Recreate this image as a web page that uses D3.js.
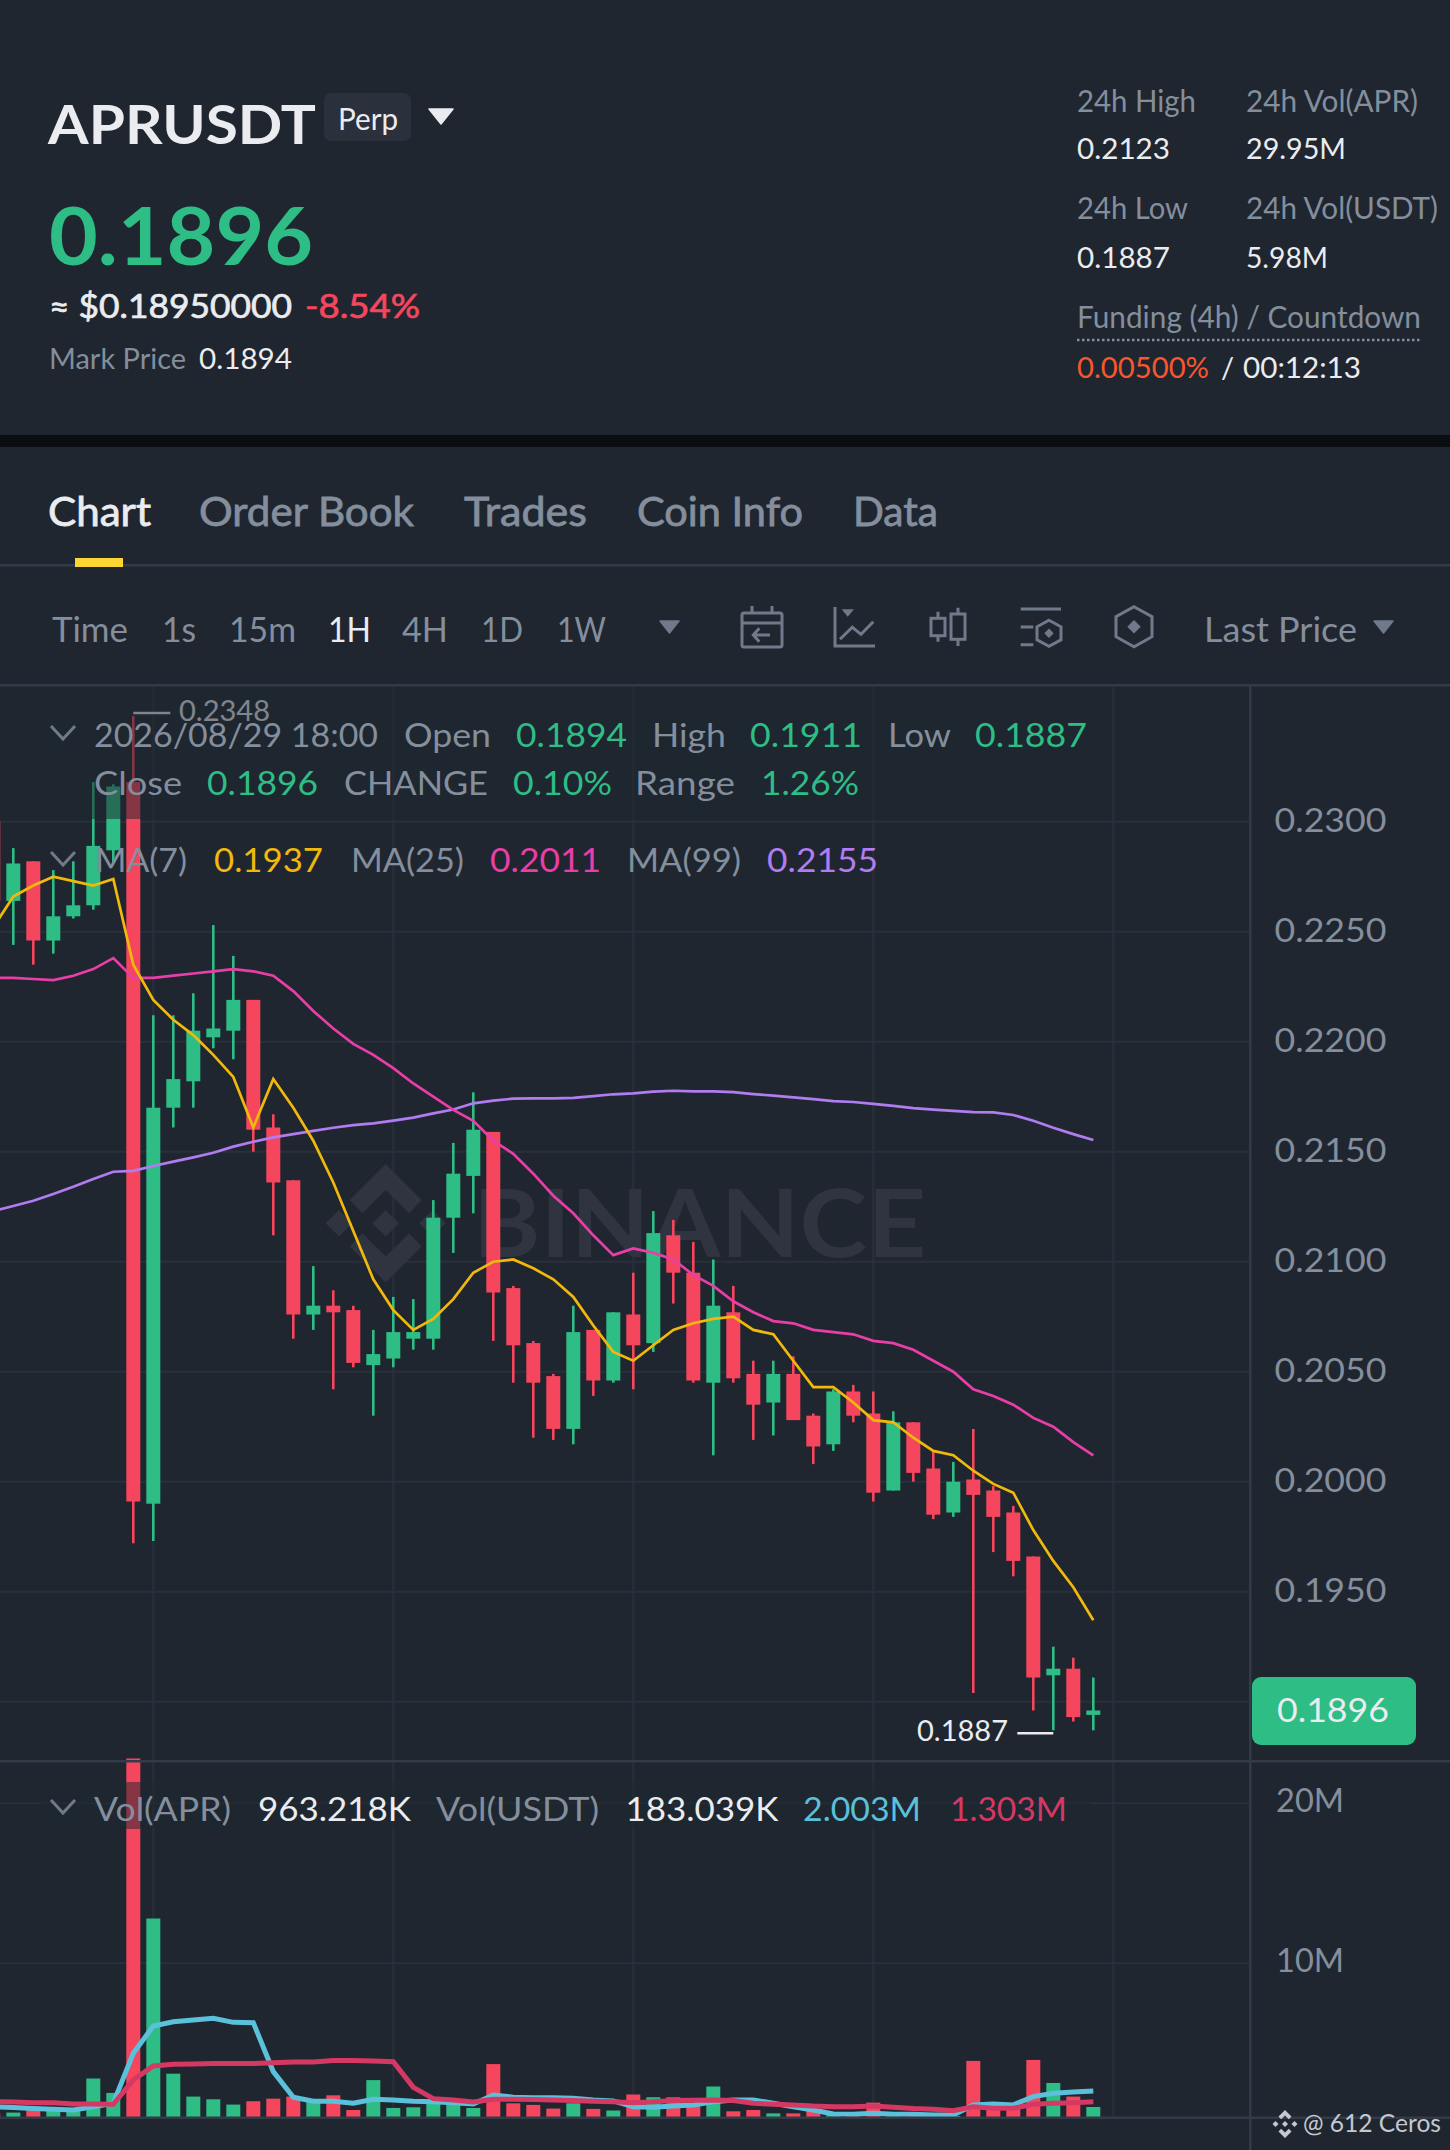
<!DOCTYPE html>
<html>
<head>
<meta charset="utf-8">
<script src="https://cdn.jsdelivr.net/npm/d3@7"></script>
<style>
  html, body { margin: 0; padding: 0; background: #1f2630; }
  svg { display: block; }
  text { font-family: Lato, "Open Sans", sans-serif; }
</style>
</head>
<body>
<script>
// candles, oldest first. the first one is cut off by the left edge
var opens = [0.2300,0.2264,0.2282,0.2246,0.2257,0.2262,0.2287,0.2318,0.1990,0.2170,0.2182,0.2202,0.2205,0.2219,0.2161,0.2137,0.2076,0.2080,0.2078,0.2053,0.2056,0.2065,0.2065,0.2120,0.2139,0.2159,0.2088,0.2063,0.2048,0.2024,0.2069,0.2046,0.2076,0.2063,0.2112,0.2095,0.2045,0.2077,0.2049,0.2036,0.2049,0.2030,0.2017,0.2041,0.2031,0.1996,0.2027,0.2006,0.1986,0.2001,0.1996,0.1986,0.1966,0.1912,0.1915,0.1894];
var highs = [0.2300,0.2288,0.2282,0.2278,0.2282,0.2318,0.2317,0.2348,0.2212,0.2212,0.2222,0.2253,0.2239,0.2219,0.2167,0.2137,0.2098,0.2087,0.2080,0.2069,0.2084,0.2083,0.2128,0.2154,0.2177,0.2159,0.2089,0.2064,0.2049,0.2080,0.2069,0.2077,0.2095,0.2123,0.2119,0.2109,0.2101,0.2089,0.2055,0.2055,0.2057,0.2031,0.2042,0.2044,0.2041,0.2032,0.2027,0.2014,0.2009,0.2024,0.1998,0.1989,0.1966,0.1925,0.1920,0.1911];
var lows = [0.2250,0.2244,0.2235,0.2240,0.2256,0.2260,0.2281,0.1972,0.1973,0.2161,0.2170,0.2197,0.2192,0.2150,0.2112,0.2065,0.2069,0.2042,0.2052,0.2030,0.2052,0.2060,0.2060,0.2104,0.2122,0.2064,0.2045,0.2020,0.2019,0.2017,0.2039,0.2045,0.2042,0.2059,0.2081,0.2045,0.2012,0.2045,0.2019,0.2021,0.2028,0.2008,0.2014,0.2027,0.1991,0.1996,0.2000,0.1983,0.1984,0.1904,0.1968,0.1957,0.1896,0.1887,0.1891,0.1887];
var closes = [0.2264,0.2281,0.2246,0.2257,0.2262,0.2289,0.2316,0.1991,0.2170,0.2183,0.2205,0.2206,0.2219,0.2160,0.2136,0.2076,0.2080,0.2077,0.2054,0.2058,0.2068,0.2068,0.2120,0.2140,0.2160,0.2086,0.2062,0.2045,0.2024,0.2068,0.2046,0.2077,0.2062,0.2113,0.2095,0.2046,0.2080,0.2047,0.2035,0.2049,0.2028,0.2016,0.2041,0.2030,0.1995,0.2027,0.2004,0.1985,0.2000,0.1994,0.1984,0.1964,0.1911,0.1915,0.1893,0.1896];

var ma7 = [0.2252,0.2266,0.2271,0.2275,0.2273,0.2271,0.2274,0.2235,0.2219,0.2210,0.2203,0.2194,0.2184,0.2161,0.2183,0.2170,0.2155,0.2136,0.2114,0.2092,0.2078,0.2069,0.2074,0.2083,0.2095,0.2100,0.2101,0.2097,0.2092,0.2084,0.2071,0.2059,0.2055,0.2062,0.2069,0.2072,0.2074,0.2075,0.2069,0.2067,0.2055,0.2043,0.2043,0.2036,0.2028,0.2027,0.2020,0.2014,0.2012,0.2005,0.1999,0.1995,0.1978,0.1964,0.1952,0.1937];
var ma25 = [0.2229,0.2229,0.22285,0.2228,0.2230,0.2233,0.2238,0.2229,0.2229,0.2230,0.2231,0.2232,0.2233,0.2232,0.2230,0.2223,0.2214,0.2206,0.2199,0.2194,0.2188,0.2181,0.2175,0.2169,0.2164,0.2155,0.2149,0.2140,0.2130,0.2122,0.2112,0.2103,0.2106,0.2104,0.2101,0.2094,0.2089,0.2082,0.2077,0.2073,0.2072,0.2069,0.2068,0.2067,0.2064,0.2063,0.2060,0.2055,0.2050,0.2042,0.2039,0.2035,0.2029,0.2025,0.2018,0.2012];
var ma99 = [0.2123,0.21253,0.21277,0.21308,0.21341,0.21376,0.21409,0.21413,0.21435,0.21455,0.21474,0.21495,0.21523,0.21545,0.21565,0.2158,0.21595,0.21609,0.21621,0.21629,0.21641,0.21655,0.21674,0.21692,0.2172,0.21732,0.21741,0.21742,0.21742,0.21745,0.21753,0.21761,0.21765,0.21773,0.21777,0.21774,0.21774,0.21771,0.21762,0.21755,0.21747,0.21739,0.2173,0.21726,0.21717,0.21708,0.21698,0.21691,0.21686,0.2168,0.21679,0.21667,0.21641,0.21609,0.2158,0.21553];

// volume in millions
var volumes = [0.6,0.67,0.9,0.9,0.9,2.8,1.9,22.8,12.8,3.1,1.67,1.5,1.17,1.38,1.54,1.67,1.35,1.75,0.83,2.7,0.96,1.0,1.3,1.4,0.96,3.7,1.25,1.15,0.92,1.25,0.9,0.8,1.8,1.63,1.63,1.25,2.3,0.75,0.83,0.62,0.62,0.83,0.62,0.52,1.29,0.52,0.46,0.46,0.46,3.9,1.0,1.04,3.96,2.52,1.67,1.02];
var volMa5 = [1.04,0.98,0.92,0.88,0.83,1.04,1.25,4.38,6.08,6.35,6.46,6.56,6.31,6.29,3.23,1.63,1.38,1.38,1.25,1.5,1.46,1.38,1.35,1.29,1.21,1.77,1.63,1.6,1.6,1.56,1.46,1.4,1.04,1.0,1.08,1.15,1.35,1.46,1.46,1.25,1.04,0.83,0.58,0.56,0.63,0.56,0.56,0.52,0.52,1.15,1.21,1.15,1.67,1.88,1.96,2.02];
var volMa10 = [1.35,1.33,1.29,1.29,1.21,1.21,1.19,2.71,3.58,3.69,3.71,3.73,3.73,3.73,3.79,3.83,3.83,3.92,3.92,3.9,3.85,2.25,1.54,1.46,1.33,1.5,1.5,1.48,1.46,1.42,1.38,1.35,1.29,1.35,1.42,1.44,1.46,1.42,1.25,1.19,1.15,1.08,1.04,1.04,1.08,1.0,0.92,0.88,0.79,1.04,0.94,0.94,1.19,1.25,1.29,1.35];

var priceTicks = [0.23,0.225,0.22,0.215,0.21,0.205,0.2,0.195];
var priceGrid = [0.23,0.225,0.22,0.215,0.21,0.205,0.2,0.195,0.19];
var volTicks = [20,10];
var timeGrid = [8,20,32,44,56]; // candle slots with a vertical grid line, every 12h
var slotCount = 56; // slot 0 is the cut off candle, slot 55 is the current candle
var highLabel = 0.2348;
var lowLabel = 0.1887;
var lastPrice = 0.1896;

var GREEN = "#2ebd85", RED = "#f6465d", GOLD = "#f0b90b", PINK = "#e93ea8", PURPLE = "#b07cf0";
var BG = "#1f2630", GRID = "#2a303b", SEP = "#343b48", GREY = "#848e9c", WHITE = "#eaecef", ICON = "#707a8a", WM = "#2f3440";

var svg = d3.select("body").append("svg")
    .attr("width", 1450)
    .attr("height", 2150);

// scales
var x = d3.scaleLinear().domain([1, 55]).range([13.3, 1093.3]);
var y = d3.scaleLinear().domain([0.23, 0.19]).range([821.7, 1701.7]);
var vy = d3.scaleLinear().domain([20, 0]).range([1803.3, 2123.3]);
var slots = d3.range(slotCount);
var bodyW = 14;

// helper: text at a baseline, width forced to what the reference measures
function txt(parent, s, px, py, size, color, w, weight) {
	var t = parent.append("text")
	    .attr("x", px)
	    .attr("y", py)
	    .attr("font-size", size)
	    .attr("fill", color)
	    .attr("font-weight", weight || 400)
	    .text(s);
	if (w) t.attr("textLength", w).attr("lengthAdjust", "spacingAndGlyphs");
	return t;
}

// no medium weight of the font is installed, so thicken the regular one
function medium(t, sw) {
	t.attr("stroke", t.attr("fill")).attr("stroke-width", sw);
}

function tri(parent, x0, x1, y0, y1, color) {
	parent.append("path")
	    .attr("d", "M" + x0 + "," + y0 + "L" + x1 + "," + y0 + "L" + (x0 + x1) / 2 + "," + y1 + "Z")
	    .attr("fill", color)
	    .attr("stroke", color)
	    .attr("stroke-width", 1.5)
	    .attr("stroke-linejoin", "round");
}

function hex(cx, cy, rx, ry) {
	return "M" + cx + "," + (cy - ry)
	  + "L" + (cx + rx) + "," + (cy - ry / 2)
	  + "L" + (cx + rx) + "," + (cy + ry / 2)
	  + "L" + cx + "," + (cy + ry)
	  + "L" + (cx - rx) + "," + (cy + ry / 2)
	  + "L" + (cx - rx) + "," + (cy - ry / 2) + "Z";
}

function diamond(cx, cy, r) {
	return "M" + cx + "," + (cy - r) + "L" + (cx + r) + "," + cy + "L" + cx + "," + (cy + r) + "L" + (cx - r) + "," + cy + "Z";
}

function chevron(parent, py) {
	parent.append("path")
	    .attr("d", "M51," + py + "L63," + (py + 13) + "L75," + py)
	    .attr("fill", "none")
	    .attr("stroke", ICON)
	    .attr("stroke-width", 3);
}

// ---- ticker header ----
var head = svg.append("g");
head.append("rect").attr("x", 0).attr("y", 435).attr("width", 1450).attr("height", 12).attr("fill", "#0b0e11");
head.append("rect").attr("x", 324).attr("y", 93).attr("width", 87).attr("height", 48).attr("rx", 7).attr("fill", "#2a303c");
tri(head, 429, 453, 109, 124, WHITE);
var ht = head.append("g").attr("transform", "translate(0,1.2)");
txt(ht, "APRUSDT", 48, 143.3, 53, WHITE, 268, 700);
txt(ht, "Perp", 338, 129, 30, WHITE, 60);
txt(ht, "0.1896", 49, 264, 80, GREEN, 264, 700);
medium(txt(ht, "\u2248 $0.18950000", 49, 317, 33, WHITE, 243), 0.7);
medium(txt(ht, "-8.54%", 305, 317, 33, RED, 115), 0.7);
txt(ht, "Mark Price", 49, 368, 29, GREY, 137);
txt(ht, "0.1894", 199, 368, 29, WHITE, 93);

txt(ht, "24h High", 1077, 110.7, 30, GREY, 119);
txt(ht, "24h Vol(APR)", 1246, 110.7, 30, GREY, 172);
txt(ht, "0.2123", 1077, 158, 29, WHITE, 93);
txt(ht, "29.95M", 1246, 158, 29, WHITE, 100);
txt(ht, "24h Low", 1077, 218, 30, GREY, 111);
txt(ht, "24h Vol(USDT)", 1246, 218, 30, GREY, 192);
txt(ht, "0.1887", 1077, 267, 29, WHITE, 93);
txt(ht, "5.98M", 1246, 267, 29, WHITE, 82);
txt(ht, "Funding (4h) / Countdown", 1077, 327, 30, GREY, 344);
head.append("line").attr("x1", 1077).attr("x2", 1422).attr("y1", 340).attr("y2", 340)
    .attr("stroke", GREY).attr("stroke-width", 2.5).attr("stroke-dasharray", "2.5 2.5");
txt(ht, "0.00500%", 1077, 377, 29, "#f6572f", 132);
txt(ht, "/", 1221, 377, 29, WHITE);
txt(ht, "00:12:13", 1243, 377, 29, WHITE, 118);

// ---- tabs ----
var tabs = svg.append("g");
medium(txt(tabs, "Chart", 48, 526, 41, WHITE, 103), 0.8);
medium(txt(tabs, "Order Book", 199, 526, 41, GREY, 215), 0.8);
medium(txt(tabs, "Trades", 464, 526, 41, GREY, 123), 0.8);
medium(txt(tabs, "Coin Info", 637, 526, 41, GREY, 166), 0.8);
medium(txt(tabs, "Data", 853, 526, 41, GREY, 85), 0.8);
tabs.append("rect").attr("x", 0).attr("y", 564).attr("width", 1450).attr("height", 2.5).attr("fill", SEP);
tabs.append("rect").attr("x", 75).attr("y", 558).attr("width", 48).attr("height", 9).attr("fill", "#fcd535");

// ---- toolbar ----
var bar = svg.append("g");
txt(bar, "Time", 52, 641.7, 34, GREY, 76);
txt(bar, "1s", 162, 641.7, 34, GREY, 34);
txt(bar, "15m", 229, 641.7, 34, GREY, 67);
txt(bar, "1H", 328, 641.7, 34, WHITE, 43);
txt(bar, "4H", 402, 641.7, 34, GREY, 46);
txt(bar, "1D", 481, 641.7, 34, GREY, 42);
txt(bar, "1W", 557, 641.7, 34, GREY, 49);
tri(bar, 660, 679, 621, 633, ICON);
txt(bar, "Last Price", 1204, 641.7, 34, GREY, 153);
tri(bar, 1374, 1393, 621, 633, ICON);

var ico = bar.append("g").attr("fill", "none").attr("stroke", ICON).attr("stroke-width", 3);
ico.append("rect").attr("x", 742).attr("y", 613).attr("width", 40).attr("height", 34).attr("rx", 2);
ico.append("path").attr("d", "M742,623H782M752,606V613M772,606V613M770,635H753M759.3,628.3L753.3,635L759.3,641.7");
ico.append("path").attr("d", "M835,607V646H875M840,639.3L852.3,627.3L861,634.3L873.3,621.7");
bar.append("path").attr("d", "M841.7,609.3H854L847.7,616.7Z").attr("fill", ICON);
ico.append("rect").attr("x", 931).attr("y", 618.3).attr("width", 14).attr("height", 17.4);
ico.append("path").attr("d", "M938,611.7V618.3M938,635.7V641.7");
ico.append("rect").attr("x", 951).attr("y", 614).attr("width", 14).attr("height", 25.3);
ico.append("path").attr("d", "M958,607.7V614M958,639.3V646");
ico.append("path").attr("d", "M1020.7,609H1061M1020.7,627H1033.3M1020.7,644.7H1033.3");
ico.append("path").attr("d", hex(1049, 633.3, 12, 13));
bar.append("path").attr("d", diamond(1049, 633.3, 4.7)).attr("fill", ICON);
ico.append("path").attr("d", hex(1134, 626.7, 18, 20));
bar.append("path").attr("d", diamond(1134, 626.7, 6.7)).attr("fill", ICON);

bar.append("rect").attr("x", 0).attr("y", 684).attr("width", 1450).attr("height", 2.5).attr("fill", SEP);

// ---- grid ----
var grid = svg.append("g").attr("stroke", GRID).attr("stroke-width", 2);
grid.selectAll(".vgrid").data(timeGrid).enter().append("line")
    .attr("class", "vgrid")
    .attr("x1", function(d) { return x(d); })
    .attr("x2", function(d) { return x(d); })
    .attr("y1", 686)
    .attr("y2", 2117);
grid.selectAll(".pgrid").data(priceGrid).enter().append("line")
    .attr("class", "pgrid")
    .attr("x1", 0).attr("x2", 1250)
    .attr("y1", function(d) { return y(d); })
    .attr("y2", function(d) { return y(d); });
grid.selectAll(".vvgrid").data(volTicks).enter().append("line")
    .attr("class", "vvgrid")
    .attr("x1", 0).attr("x2", 1250)
    .attr("y1", function(d) { return vy(d); })
    .attr("y2", function(d) { return vy(d); });

// ---- watermark ----
var wm = svg.append("g").attr("fill", WM).attr("transform", "translate(385.7,1223.3)");
wm.append("path").attr("d", "M0,-59.3L36,-23.3L23.3,-10L0,-33.3L-23.3,-10L-36,-23.3Z");
wm.append("path").attr("d", "M0,59.3L36,23.3L23.3,10L0,33.3L-23.3,10L-36,23.3Z");
wm.append("path").attr("d", diamond(0, 0, 13.3));
wm.append("path").attr("d", diamond(-46.7, 0, 13.3));
wm.append("path").attr("d", diamond(46.7, 0, 13.3));
txt(svg, "BINANCE", 473, 1257, 93, WM, 453, 700);

// ---- candles ----
function isUp(i) { return closes[i] >= opens[i]; }

var candles = svg.append("g");
candles.selectAll(".wick").data(slots).enter().append("line")
    .attr("class", "wick")
    .attr("x1", function(i) { return x(i); })
    .attr("x2", function(i) { return x(i); })
    .attr("y1", function(i) { return y(highs[i]); })
    .attr("y2", function(i) { return y(lows[i]); })
    .attr("stroke", function(i) { return isUp(i) ? GREEN : RED; })
    .attr("stroke-width", 2.6);
candles.selectAll(".body").data(slots).enter().append("rect")
    .attr("class", "body")
    .attr("x", function(i) { return x(i) - bodyW / 2; })
    .attr("width", bodyW)
    .attr("y", function(i) { return y(Math.max(opens[i], closes[i])); })
    .attr("height", function(i) { return Math.max(2, Math.abs(y(opens[i]) - y(closes[i]))); })
    .attr("fill", function(i) { return isUp(i) ? GREEN : RED; });

// moving averages
var maLine = d3.line()
    .x(function(d, i) { return x(i); })
    .y(function(d) { return y(d); });
[[ma99, PURPLE], [ma25, PINK], [ma7, GOLD]].forEach(function(m) {
	svg.append("path")
	    .attr("d", maLine(m[0]))
	    .attr("fill", "none")
	    .attr("stroke", m[1])
	    .attr("stroke-width", 2.7);
});

// high and low markers, drawn a little off the wick ends
svg.append("line").attr("x1", x(7)).attr("x2", x(7) + 37)
    .attr("y1", y(highLabel) - 3).attr("y2", y(highLabel) - 3)
    .attr("stroke", WHITE).attr("stroke-width", 2.5);
txt(svg, d3.format(".4f")(highLabel), 179, y(highLabel) + 4.6, 29, WHITE, 91);
svg.append("line").attr("x1", x(53) - 36).attr("x2", x(53))
    .attr("y1", y(lowLabel) + 3).attr("y2", y(lowLabel) + 3)
    .attr("stroke", WHITE).attr("stroke-width", 2.5);
txt(svg, d3.format(".4f")(lowLabel), 917, y(lowLabel) + 10.7, 29, WHITE, 91);

// dim strip behind the two top legend rows
svg.append("rect").attr("x", 40).attr("y", 688).attr("width", 1060).attr("height", 131)
    .attr("fill", BG).attr("fill-opacity", 0.52);

// ---- price legend ----
var leg = svg.append("g");
chevron(leg, 726);
txt(leg, "2026/08/29 18:00", 94, 746.7, 33, GREY, 284);
txt(leg, "Open", 404, 746.7, 33, GREY, 87);
txt(leg, "0.1894", 516, 746.7, 33, GREEN, 111);
txt(leg, "High", 652, 746.7, 33, GREY, 74);
txt(leg, "0.1911", 750, 746.7, 33, GREEN, 112);
txt(leg, "Low", 888, 746.7, 33, GREY, 63);
txt(leg, "0.1887", 975, 746.7, 33, GREEN, 112);
txt(leg, "Close", 94, 795, 33, GREY, 88);
txt(leg, "0.1896", 207, 795, 33, GREEN, 111);
txt(leg, "CHANGE", 344, 795, 33, GREY, 144);
txt(leg, "0.10%", 513, 795, 33, GREEN, 99);
txt(leg, "Range", 635, 795, 33, GREY, 100);
txt(leg, "1.26%", 761, 795, 33, GREEN, 98);
chevron(leg, 852);
txt(leg, "MA(7)", 95, 872, 33, GREY, 92);
txt(leg, "0.1937", 214, 872, 33, GOLD, 109);
txt(leg, "MA(25)", 351, 872, 33, GREY, 113);
txt(leg, "0.2011", 490, 872, 33, PINK, 111);
txt(leg, "MA(99)", 627, 872, 33, GREY, 114);
txt(leg, "0.2155", 767, 872, 33, PURPLE, 111);

// price axis
var priceAxis = d3.axisRight(y)
    .tickValues(priceTicks)
    .tickFormat(d3.format(".4f"))
    .tickSize(0)
    .tickPadding(24.5);
var gy = svg.append("g").attr("transform", "translate(1250,0)").call(priceAxis);
gy.select(".domain").remove();
gy.selectAll("text").attr("font-size", 33).attr("fill", GREY).attr("dy", "0.31em")
    .attr("textLength", 112).attr("lengthAdjust", "spacingAndGlyphs");

// last price tag
svg.append("rect").attr("x", 1252).attr("y", 1677).attr("width", 164).attr("height", 68).attr("rx", 9).attr("fill", GREEN);
txt(svg, d3.format(".4f")(lastPrice), 1277, 1722, 33, WHITE, 112);

// ---- volume pane ----
svg.append("clipPath").attr("id", "volclip").append("rect")
    .attr("x", 0).attr("y", 1750).attr("width", 1250).attr("height", 367);
var vol = svg.append("g").attr("clip-path", "url(#volclip)");
vol.selectAll(".vbar").data(slots).enter().append("rect")
    .attr("class", "vbar")
    .attr("x", function(i) { return x(i) - bodyW / 2; })
    .attr("width", bodyW)
    .attr("y", function(i) { return vy(volumes[i]); })
    .attr("height", function(i) { return vy(0) - vy(volumes[i]); })
    .attr("fill", function(i) { return isUp(i) ? GREEN : RED; });
var volLine = d3.line()
    .x(function(d, i) { return x(i); })
    .y(function(d) { return vy(d); });
[[volMa5, "#5bc0da"], [volMa10, "#d63864"]].forEach(function(m) {
	vol.append("path")
	    .attr("d", volLine(m[0]))
	    .attr("fill", "none")
	    .attr("stroke", m[1])
	    .attr("stroke-width", 5);
});

svg.append("rect").attr("x", 40).attr("y", 1782).attr("width", 1051).attr("height", 47)
    .attr("fill", BG).attr("fill-opacity", 0.52);

var vleg = svg.append("g");
chevron(vleg, 1800);
txt(vleg, "Vol(APR)", 94, 1820.7, 33, GREY, 137);
txt(vleg, "963.218K", 258, 1820.7, 33, WHITE, 153);
txt(vleg, "Vol(USDT)", 436, 1820.7, 33, GREY, 163);
txt(vleg, "183.039K", 625.5, 1820.7, 33, WHITE, 153);
txt(vleg, "2.003M", 803, 1820.7, 33, "#5bc0da", 118);
txt(vleg, "1.303M", 950, 1820.7, 33, "#d63864", 117);

var volAxis = d3.axisRight(vy)
    .tickValues(volTicks)
    .tickFormat(function(d) { return d + "M"; })
    .tickSize(0)
    .tickPadding(26);
var gv = svg.append("g").attr("transform", "translate(1250,0)").call(volAxis);
gv.select(".domain").remove();
gv.selectAll("text").attr("font-size", 33).attr("fill", GREY).attr("dy", "0.26em")
    .attr("textLength", 68).attr("lengthAdjust", "spacingAndGlyphs");

// pane borders
var seps = svg.append("g").attr("fill", SEP);
seps.append("rect").attr("x", 0).attr("y", 1760).attr("width", 1450).attr("height", 2.5);
seps.append("rect").attr("x", 0).attr("y", 2116.5).attr("width", 1450).attr("height", 2.5);
seps.append("rect").attr("x", 1249).attr("y", 686).attr("width", 2.5).attr("height", 1464);

// copyright mark
var cr = svg.append("g").attr("transform", "translate(1285,2124)").attr("fill", "#c4c9d0");
cr.append("path").attr("d", "M0,-14L6.5,-7.5L3.8,-4.8L0,-8.6L-3.8,-4.8L-6.5,-7.5Z");
cr.append("path").attr("d", "M0,14L6.5,7.5L3.8,4.8L0,8.6L-3.8,4.8L-6.5,7.5Z");
cr.append("path").attr("d", diamond(0, 0, 3));
cr.append("path").attr("d", diamond(-9.5, 0, 3));
cr.append("path").attr("d", diamond(9.5, 0, 3));
txt(svg, "@ 612 Ceros", 1303, 2131.7, 25, "#c4c9d0", 138);
</script>
</body>
</html>
